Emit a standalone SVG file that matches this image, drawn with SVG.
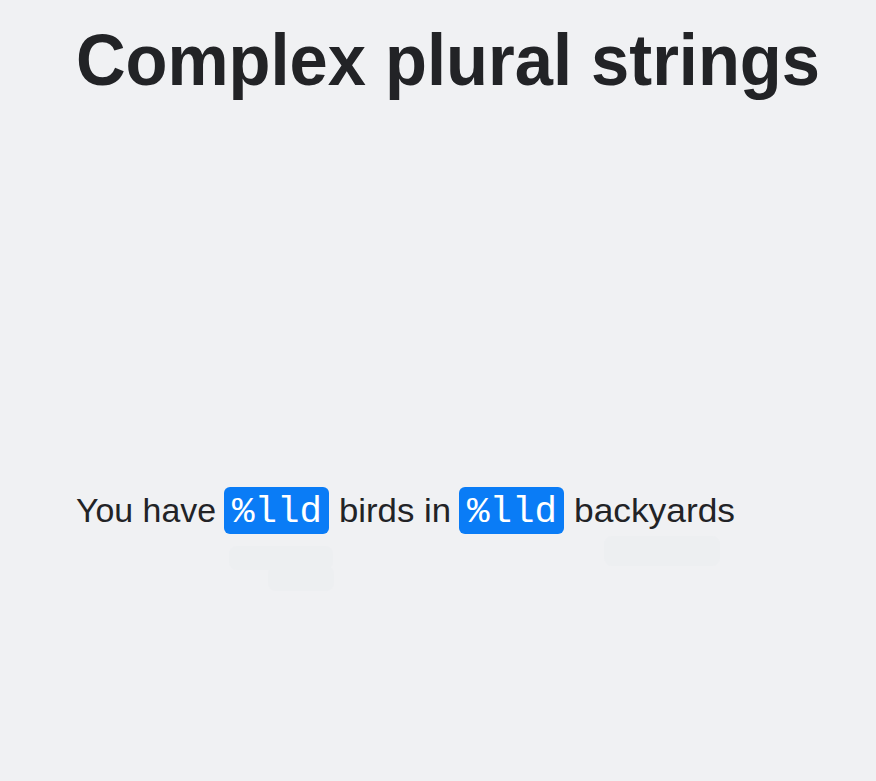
<svg xmlns="http://www.w3.org/2000/svg" width="876" height="781" viewBox="0 0 876 781">
<style>
.title{font-family:"Liberation Sans",Arial,sans-serif;font-weight:bold;font-size:72px;fill:#222326}
.body{font-family:"Liberation Sans",Arial,sans-serif;font-size:34px;fill:#222326}
.mono{font-family:"Liberation Mono","DejaVu Sans Mono",monospace;font-size:36px;fill:#ffffff}
.pill{fill:#0a7cf6}
.ghost{fill:#e9ebee}
</style>
<rect width="876" height="781" fill="#f0f1f3"/>
<g id="title">
<text class="title" x="76" y="85" textLength="744" lengthAdjust="spacingAndGlyphs">Complex plural strings</text>
</g>
<g id="ghosts" opacity="0.3">
<rect class="ghost" x="229" y="546" width="104" height="24" rx="8"/>
<rect class="ghost" x="268" y="566" width="66" height="25" rx="8"/>
<rect class="ghost" x="604" y="536" width="116" height="30" rx="8"/>
</g>
<g id="sentence">
<text class="body" x="76" y="522" textLength="140" lengthAdjust="spacingAndGlyphs">You have</text>
<g id="placeholder1">
<rect class="pill" x="224" y="487" width="105" height="47" rx="6"/>
<text class="mono" x="232" y="522" textLength="90" lengthAdjust="spacingAndGlyphs">%lld</text>
</g>
<text class="body" x="339" y="522" textLength="112" lengthAdjust="spacingAndGlyphs">birds in</text>
<g id="placeholder2">
<rect class="pill" x="459" y="487" width="105" height="47" rx="6"/>
<text class="mono" x="467" y="522" textLength="90" lengthAdjust="spacingAndGlyphs">%lld</text>
</g>
<text class="body" x="574" y="522" textLength="161" lengthAdjust="spacingAndGlyphs">backyards</text>
</g>
</svg>
